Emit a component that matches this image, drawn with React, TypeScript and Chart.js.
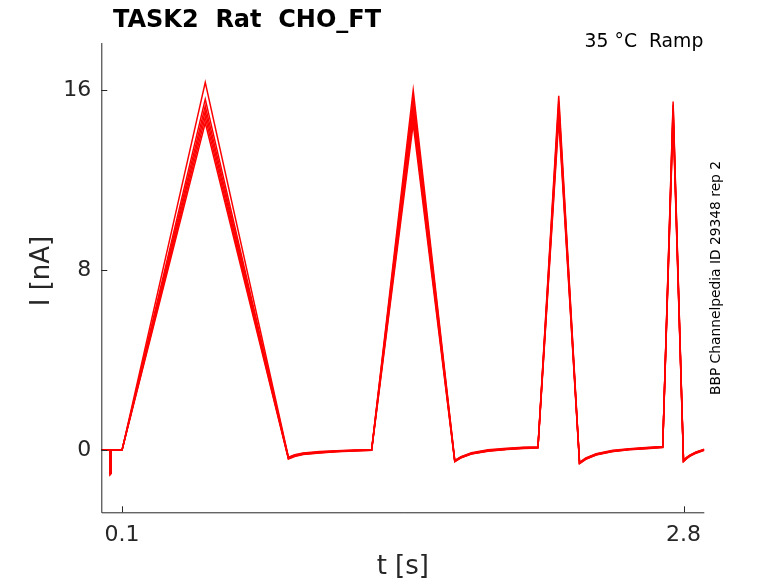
import React, { useRef, useEffect } from 'react';
import { Chart, registerables } from 'chart.js';

Chart.register(...registerables);

// time base shared by every sweep (s)
const times = [
    0, 0.042, 0.043, 0.047, 0.048, 0.1, 0.5, 0.9, 0.93, 0.97, 1.05, 1.13, 1.22, 1.3,
    1.5, 1.7, 1.73, 1.78, 1.86, 1.95, 2.03, 2.1, 2.2, 2.3, 2.33, 2.38, 2.46, 2.54,
    2.62, 2.7, 2.75, 2.8, 2.815, 2.83, 2.86, 2.9,
];

// current (nA), one array per repetition
const trace1 = [
    0, 0, -1.05, -1.0, 0, 0, 16.35, -0.33, -0.22, -0.14, -0.08, -0.04, -0.01, 0.0,
    16.0, -0.47, -0.3, -0.13, 0.0, 0.07, 0.11, 0.13, 15.75, -0.56, -0.36, -0.17, -0.02, 0.05,
    0.1, 0.15, 15.5, -0.47, -0.33, -0.24, -0.1, 0.03,
];
const trace2 = [
    0, 0, -1.1, -1.05, 0, 0, 15.6, -0.35, -0.24, -0.16, -0.1, -0.05, -0.02, 0.0,
    15.65, -0.48, -0.32, -0.15, -0.02, 0.05, 0.1, 0.12, 15.5, -0.57, -0.38, -0.19, -0.04, 0.04,
    0.09, 0.14, 15.35, -0.48, -0.35, -0.25, -0.11, 0.02,
];
const trace3 = [
    0, 0, -1.0, -0.95, 0, 0, 15.3, -0.37, -0.26, -0.18, -0.11, -0.06, -0.03, -0.01,
    15.35, -0.5, -0.33, -0.16, -0.03, 0.04, 0.09, 0.11, 15.3, -0.58, -0.39, -0.2, -0.05, 0.03,
    0.08, 0.13, 15.2, -0.49, -0.36, -0.26, -0.12, 0.01,
];
const trace4 = [
    0, 0, -1.05, -1.0, 0, 0, 15.05, -0.38, -0.27, -0.19, -0.12, -0.07, -0.03, -0.01,
    15.1, -0.51, -0.34, -0.17, -0.04, 0.03, 0.08, 0.1, 15.1, -0.59, -0.4, -0.21, -0.06, 0.02,
    0.07, 0.12, 15.05, -0.5, -0.37, -0.27, -0.13, 0.0,
];
const trace5 = [
    0, 0, -1.0, -0.98, 0, 0, 14.8, -0.4, -0.28, -0.2, -0.13, -0.08, -0.04, -0.02,
    14.8, -0.52, -0.35, -0.18, -0.05, 0.02, 0.07, 0.09, 14.9, -0.6, -0.41, -0.22, -0.07, 0.01,
    0.06, 0.11, 14.9, -0.51, -0.38, -0.28, -0.14, -0.01,
];
const trace6 = [
    0, 0, -1.08, -1.02, 0, 0, 14.55, -0.41, -0.3, -0.21, -0.14, -0.09, -0.05, -0.02,
    14.5, -0.53, -0.36, -0.19, -0.06, 0.01, 0.06, 0.08, 14.7, -0.61, -0.42, -0.23, -0.08, 0.0,
    0.05, 0.1, 14.75, -0.52, -0.39, -0.29, -0.15, -0.02,
];
const traces = [trace1, trace2, trace3, trace4, trace5, trace6];

const xTicks = [0.1, 2.8];
const yTicks = [0, 8, 16];

const titleText = 'TASK2  Rat  CHO_FT';
const subtitleText = '35 °C  Ramp';
const sideText = 'BBP Channelpedia ID 29348 rep 2';
const xLabel = 't [s]';
const yLabel = 'I [nA]';

const FONT = '"DejaVu Sans", sans-serif';
const INK = '#262626';

const decor = {
    id: 'decor',
    afterDraw(chart: any) {
        const { ctx, chartArea: a, scales } = chart;
        ctx.save();
        // axes (box off) with inward ticks
        ctx.strokeStyle = INK;
        ctx.lineWidth = 1;
        ctx.beginPath();
        ctx.moveTo(a.left + 0.5, a.top);
        ctx.lineTo(a.left + 0.5, a.bottom + 0.5);
        ctx.lineTo(a.right, a.bottom + 0.5);
        scales.y.ticks.forEach((t: any) => {
            const py = Math.round(scales.y.getPixelForValue(t.value)) + 0.5;
            ctx.moveTo(a.left, py);
            ctx.lineTo(a.left + 6, py);
        });
        scales.x.ticks.forEach((t: any) => {
            const px = Math.round(scales.x.getPixelForValue(t.value)) + 0.5;
            ctx.moveTo(px, a.bottom);
            ctx.lineTo(px, a.bottom - 6);
        });
        ctx.stroke();

        ctx.fillStyle = '#000';
        ctx.textBaseline = 'alphabetic';
        ctx.font = `bold 24px ${FONT}`;
        ctx.textAlign = 'left';
        ctx.fillText(titleText, 113, 27);

        ctx.font = `18.8px ${FONT}`;
        ctx.textAlign = 'right';
        ctx.fillText(subtitleText, a.right - 1, 47);

        ctx.fillStyle = INK;
        ctx.font = `26px ${FONT}`;
        ctx.textAlign = 'center';
        ctx.textBaseline = 'middle';
        ctx.fillText(xLabel, (a.left + a.right) / 2, 567);

        ctx.save();
        ctx.translate(42, 271);
        ctx.rotate(-Math.PI / 2);
        ctx.fillText(yLabel, 0, 0);
        ctx.restore();

        ctx.save();
        ctx.fillStyle = '#000';
        ctx.font = `13.8px ${FONT}`;
        ctx.translate(716, 278);
        ctx.rotate(-Math.PI / 2);
        ctx.fillText(sideText, 0, 0);
        ctx.restore();

        ctx.restore();
    },
};

const App: React.FC = () => {
    const canvasRef = useRef<HTMLCanvasElement>(null);
    const chartRef = useRef<Chart | null>(null);

    useEffect(() => {
        if (chartRef.current) chartRef.current.destroy();
        if (!canvasRef.current) return;

        const datasets = traces.map((vals, i) => ({
            label: `rep ${i + 1}`,
            data: times.map((t, j) => ({ x: t, y: vals[j] })),
            borderColor: '#ff0000',
            borderWidth: 1.5,
            pointRadius: 0,
            tension: 0,
            fill: false,
        }));

        chartRef.current = new Chart(canvasRef.current, {
            type: 'line',
            data: { datasets },
            options: {
                animation: false,
                responsive: false,
                devicePixelRatio: 1,
                layout: { padding: { top: 43, right: 73.7, bottom: 0, left: 0 } },
                plugins: { legend: { display: false }, tooltip: { enabled: false } },
                scales: {
                    x: {
                        type: 'linear',
                        min: 0,
                        max: 2.9,
                        afterBuildTicks: (s: any) => { s.ticks = xTicks.map((v) => ({ value: v })); },
                        afterFit: (s: any) => { s.height = 70.7; },
                        grid: { display: false, drawTicks: false },
                        border: { display: false },
                        ticks: {
                            font: { family: FONT, size: 22 },
                            color: INK,
                            padding: 10,
                            maxRotation: 0,
                            autoSkip: false,
                            callback: (v: any) => String(v),
                        },
                    },
                    y: {
                        type: 'linear',
                        min: -2.78,
                        max: 18.1,
                        afterBuildTicks: (s: any) => { s.ticks = yTicks.map((v) => ({ value: v })); },
                        afterFit: (s: any) => { s.width = 101.3; },
                        grid: { display: false, drawTicks: false },
                        border: { display: false },
                        ticks: {
                            font: { family: FONT, size: 22 },
                            color: INK,
                            padding: 10,
                            autoSkip: false,
                            callback: (v: any) => String(v),
                        },
                    },
                },
            },
            plugins: [decor],
        });

        return () => { if (chartRef.current) chartRef.current.destroy(); };
    }, []);

    return (
        <div style={{ position: 'fixed', left: 0, top: 0, width: 778, height: 583, background: '#fff' }}>
            <canvas ref={canvasRef} width={778} height={583}></canvas>
        </div>
    );
};

export default App;
